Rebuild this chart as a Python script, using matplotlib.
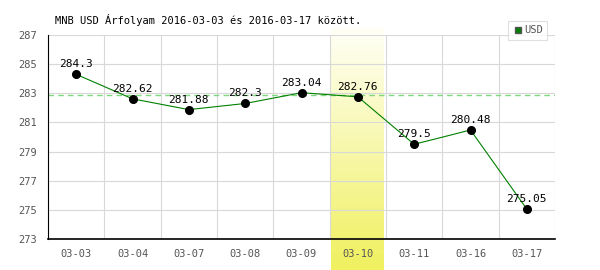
import matplotlib
matplotlib.use("Agg")
import matplotlib.pyplot as plt
import numpy as np
from matplotlib.colors import LinearSegmentedColormap

dates = ["03-03", "03-04", "03-07", "03-08", "03-09", "03-10", "03-11", "03-16", "03-17"]
rates = [284.3, 282.62, 281.88, 282.3, 283.04, 282.76, 279.5, 280.48, 275.05]
value_labels = ["284.3", "282.62", "281.88", "282.3", "283.04", "282.76", "279.5", "280.48", "275.05"]
ref_line = 282.85
highlight = 5
yticks = [273, 275, 277, 279, 281, 283, 285, 287]

plt.rcParams['font.family'] = ['DejaVu Sans Mono', 'DejaVu Sans']

fig = plt.figure(figsize=(6, 2.7), dpi=100)
ax = fig.add_axes([48 / 600, 1 - 239 / 270, 507 / 600, 204 / 270])
ax.set_xlim(-0.5, len(dates) - 0.5)
ax.set_ylim(273, 287)
ax.patch.set_alpha(0)

# highlighted day: gradient band behind the main axes
x0, x1 = ax.transData.transform([(highlight - 0.5, 0), (highlight + 0.5, 0)])[:, 0]
bx = fig.add_axes([x0 / 600 + 0.003, 0, (x1 - x0) / 600 - 0.006, 1 - 28 / 270], zorder=-1)
cmap = LinearSegmentedColormap.from_list("band", ["#fffff6", "#f0f060"])
bx.imshow(np.linspace(0, 1, 100).reshape(-1, 1), aspect="auto", cmap=cmap, extent=[0, 1, 0, 1], origin="upper")
bx.axis("off")

x = np.arange(len(dates))
ax.plot(x, rates, color="#008000", lw=0.8, zorder=3)
ax.plot(x, rates, "o", color="black", ms=5.5, zorder=4)
for xi, yi, lab in zip(x, rates, value_labels):
    ax.text(xi, yi + 0.35, lab, ha="center", va="bottom", fontsize=8, color="black", zorder=5)

ax.axhline(ref_line, color="#7ed87e", lw=1.0, ls=(0, (4, 3)), zorder=2)

ax.set_yticks(yticks)
ax.set_xticks(x)
ax.set_xticklabels(dates)
ax.grid(False)
for yt in yticks:
    ax.axhline(yt, color="#d8d8d8", lw=0.8, zorder=1)
for xm in np.arange(len(dates) + 1) - 0.5:
    ax.axvline(xm, color="#d8d8d8", lw=0.8, zorder=1)
ax.tick_params(axis="both", which="both", length=0, labelsize=7.5, labelcolor="#555555")
ax.tick_params(axis="y", pad=8)
ax.tick_params(axis="x", pad=7)
for s in ["top", "right"]:
    ax.spines[s].set_visible(False)
ax.spines["left"].set_color("black")
ax.spines["bottom"].set_color("black")
ax.spines["bottom"].set_linewidth(1.2)

fig.text(55 / 600, 1 - 20 / 270, "MNB USD Árfolyam 2016-03-03 és 2016-03-17 között.", fontsize=7.5, va="center", ha="left")

leg = ax.legend(handles=[plt.Line2D([], [], marker="s", ls="none", color="#008000", markeredgecolor="#555555", ms=5)],
                labels=["USD"], loc="upper right", bbox_to_anchor=(552 / 600, 1 - 16 / 270), bbox_transform=fig.transFigure,
                fontsize=7.5, frameon=True, fancybox=False, handletextpad=0.1, borderpad=0.4, handlelength=1.0)
leg.get_frame().set_edgecolor("#d8d8d8")
leg.get_frame().set_linewidth(0.8)
for t in leg.get_texts():
    t.set_color("#555555")

fig.savefig("out.png", dpi=100)
